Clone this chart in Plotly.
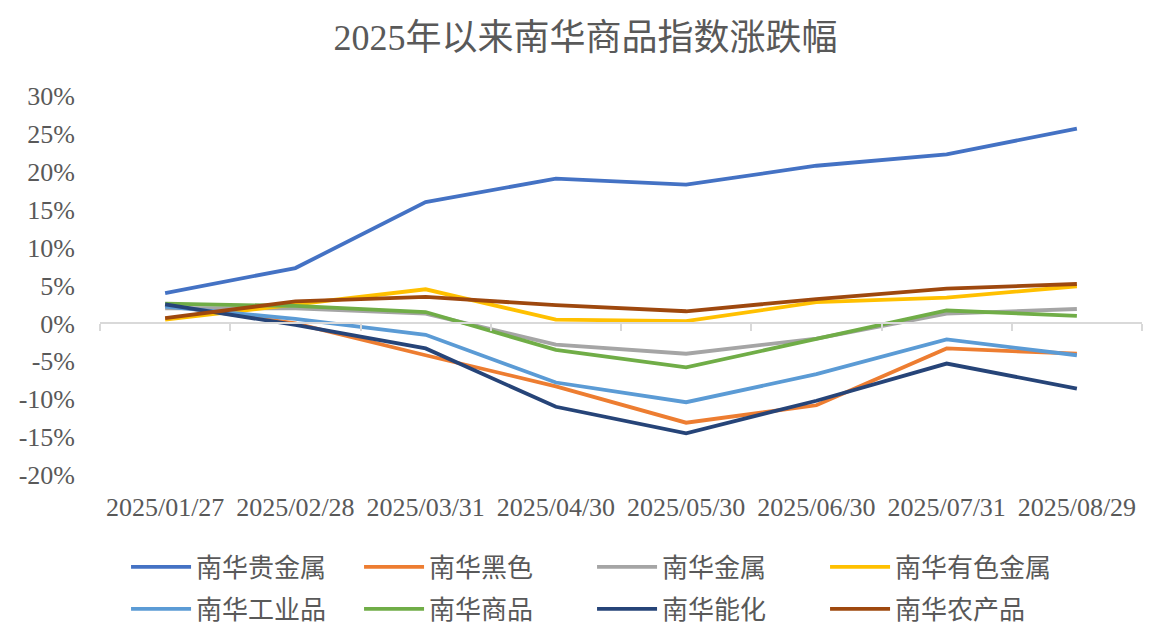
import plotly.graph_objects as go

dates = ["2025/01/27", "2025/02/28", "2025/03/31", "2025/04/30",
         "2025/05/30", "2025/06/30", "2025/07/31", "2025/08/29"]

precious = [4.0, 7.3, 16.0, 19.1, 18.3, 20.8, 22.3, 25.7]
black = [2.4, 0.0, -4.2, -8.3, -13.1, -10.8, -3.3, -4.0]
metals = [2.0, 2.0, 1.3, -2.8, -4.0, -2.0, 1.3, 1.9]
nonferrous = [0.5, 2.5, 4.5, 0.5, 0.3, 2.8, 3.4, 4.9]
industrial = [2.2, 0.6, -1.5, -7.8, -10.4, -6.7, -2.1, -4.2]
commodity = [2.6, 2.3, 1.5, -3.5, -5.8, -2.1, 1.7, 1.0]
energy_chem = [2.5, -0.2, -3.3, -11.0, -14.5, -10.2, -5.3, -8.6]
agri = [0.7, 2.9, 3.5, 2.4, 1.6, 3.2, 4.6, 5.2]

series_names = ["南华贵金属", "南华黑色", "南华金属", "南华有色金属",
                "南华工业品", "南华商品", "南华能化", "南华农产品"]
series_values = [precious, black, metals, nonferrous,
                 industrial, commodity, energy_chem, agri]
series_colors = ["#4472C4", "#ED7D31", "#A5A5A5", "#FFC000",
                 "#5B9BD5", "#70AD47", "#264478", "#9E480E"]

y_ticks = [30, 25, 20, 15, 10, 5, 0, -5, -10, -15, -20]

FONT = "Liberation Serif, Times New Roman, Noto Sans CJK SC, serif"
TXT = "#595959"

fig = go.Figure()
for i, (name, vals, col) in enumerate(zip(series_names, series_values, series_colors)):
    fig.add_trace(go.Scatter(x=dates, y=vals, name=name, mode="lines",
                             line=dict(color=col, width=3.8),
                             legend="legend" if i < 4 else "legend2"))

# invisible trace for the zero-line axis
fig.add_trace(go.Scatter(x=dates, y=[None] * len(dates), xaxis="x2",
                         showlegend=False, hoverinfo="skip"))

legend_common = dict(orientation="h", xanchor="left", yanchor="middle",
                     entrywidth=158, entrywidthmode="pixels",
                     font=dict(size=26, color=TXT, family=FONT),
                     itemwidth=60, bgcolor="rgba(0,0,0,0)")

PLOT_H = 379

fig.update_layout(
    width=1155, height=639,
    paper_bgcolor="white", plot_bgcolor="white",
    margin=dict(l=92, r=21, t=88, b=172, autoexpand=False),
    font=dict(family=FONT, color=TXT, size=24),
    title=dict(text="2025年以来南华商品指数涨跌幅", x=0.5, xanchor="center",
               xref="container", yref="container",
               y=1 - 29 / 639, yanchor="middle",
               font=dict(size=36, color=TXT, family=FONT)),
    xaxis=dict(type="category", range=[-0.5, 7.5], showline=False, ticks="",
               showgrid=False, zeroline=False,
               tickfont=dict(size=26, color=TXT, family=FONT),
               ticklabelstandoff=14),
    xaxis2=dict(type="category", overlaying="x", matches="x", anchor="free",
                position=0.4, side="bottom", showline=True, linecolor="#D9D9D9",
                linewidth=1.5, ticks="outside", tickson="boundaries", ticklen=7,
                tickcolor="#D9D9D9", tickwidth=1.5, showticklabels=False,
                showgrid=False, zeroline=False),
    yaxis=dict(range=[-20, 30], tickvals=y_ticks,
               ticktext=[f"{v}%" for v in y_ticks], showgrid=False,
               zeroline=False, showline=False,
               tickfont=dict(size=26, color=TXT, family=FONT),
               ticklabelstandoff=24),
    legend=dict(x=0.025, y=-92 / PLOT_H, **legend_common),
    legend2=dict(x=0.025, y=-134 / PLOT_H, **legend_common),
    showlegend=True,
)

fig.write_html("out.html")
